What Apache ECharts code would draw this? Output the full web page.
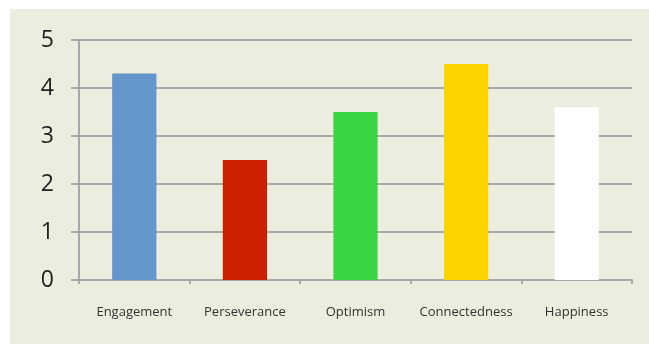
<!DOCTYPE html>
<html><head><meta charset="utf-8">
<script src="https://cdn.jsdelivr.net/npm/echarts@6/dist/echarts.min.js"></script>
<style>html,body{margin:0;padding:0;background:#fff;}#wrap{position:absolute;left:10px;top:9px;width:639px;height:335px;background:#EBEEDE;}#c{position:absolute;left:0;top:0;width:649px;height:344px;}</style>
</head><body><div id="wrap"></div><div id="c"></div>
<script>
const categories = ["Engagement", "Perseverance", "Optimism", "Connectedness", "Happiness"];
const values = [4.3, 2.5, 3.5, 4.5, 3.6];
const barColors = ["#6495CB", "#CC2000", "#3AD444", "#FFD300", "#FFFFFF"];
const yTicks = [0, 1, 2, 3, 4, 5];

const chart = echarts.init(document.getElementById('c'), null, {renderer: 'canvas'});
chart.setOption({
  backgroundColor: 'transparent',
  animation: false,
  grid: {left: 79, right: 17, top: 40, bottom: 64, containLabel: false},
  xAxis: {
    type: 'category', data: categories, boundaryGap: true,
    axisLine: {show: true, lineStyle: {color: '#A8A8A8', width: 2}},
    axisTick: {show: true, interval: 0, length: 4, alignWithLabel: false, lineStyle: {color: '#A8A8A8', width: 2}},
    axisLabel: {interval: 0, margin: 26, fontFamily: 'Open Sans', fontSize: 13, color: '#333'}
  },
  yAxis: {
    type: 'value', min: yTicks[0], max: yTicks[yTicks.length - 1], interval: 1,
    axisLine: {show: true, lineStyle: {color: '#A8A8A8', width: 2}},
    axisTick: {show: true, length: 8, lineStyle: {color: '#A8A8A8', width: 2}},
    splitLine: {show: true, lineStyle: {color: '#A8A8A8', width: 2}},
    axisLabel: {margin: 25, fontFamily: 'Open Sans', fontSize: 23, color: '#222'}
  },
  series: [{
    type: 'bar', barWidth: '40%',
    data: values.map((v, i) => ({value: v, itemStyle: {color: barColors[i]}}))
  }]
});
</script></body></html>
